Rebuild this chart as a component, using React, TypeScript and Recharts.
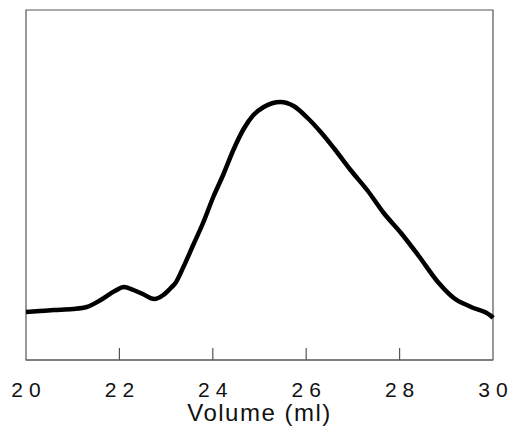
import { LineChart, Line, XAxis, YAxis, ReferenceArea, ReferenceLine } from 'recharts';

// elution volume (ml) and detector response (arbitrary units)
const volume = [
  20.0, 20.3, 20.6, 21.0, 21.3, 21.6, 21.9, 22.1, 22.3, 22.5, 22.66, 22.75, 22.94,
  23.1, 23.2, 23.37, 23.58, 23.8, 24.01, 24.23, 24.44, 24.66, 24.87, 25.09, 25.45,
  25.73, 26.03, 26.31, 26.59, 26.95, 27.32, 27.66, 28.03, 28.41, 28.82,
  29.16, 29.53, 29.96, 30.0,
];
const response = [
  48, 49, 50, 51, 53, 60, 69, 73, 70, 66, 62, 61, 65,
  72, 77, 93, 115, 138, 163, 186, 210, 231, 245, 253, 258,
  254, 242, 228, 212, 190, 169, 147, 127, 104, 78,
  62, 53, 44, 42,
];
const xTicks = [20, 22, 24, 26, 28, 30];
const innerTicks = [22, 24, 26, 28];

const data = volume.map((v, i) => ({ v, r: response[i] }));

const FONT = '"Liberation Sans", Arial, Helvetica, sans-serif';

// digits spread apart like the original typesetting, no trailing space
function Tick({ x, y, payload }: any) {
  const s = String(payload.value);
  return (
    <text x={x} y={y + 37} textAnchor="middle" fontFamily={FONT} fontSize={21} fill="#111">
      {s.split('').map((c, i) => (
        <tspan key={i} dx={i === 0 ? 0 : 6}>{c}</tspan>
      ))}
    </text>
  );
}

export default function App() {
  return (
    <div style={{ position: 'absolute', left: 0, top: 0, background: '#fff' }}>
      <LineChart width={511} height={428} data={data}
        margin={{ top: 10, right: 18, left: 26, bottom: 0 }}>
        <XAxis dataKey="v" type="number" domain={[20, 30]} ticks={xTicks}
          height={68} tickLine={false} tickSize={0} tickMargin={0}
          axisLine={{ stroke: '#555', strokeWidth: 1.2 }}
          tick={<Tick />} interval={0}
          label={{ value: 'Volume (ml)', position: 'insideBottom', offset: 7,
            style: { fontFamily: FONT, fontSize: 24, letterSpacing: 1.5, fill: '#111' } }} />
        <YAxis type="number" domain={[0, 350]} hide />
        <ReferenceArea x1={20} x2={30} y1={0} y2={350} fill="none"
          stroke="#555" strokeWidth={1.2} ifOverflow="visible" />
        {innerTicks.map(t => (
          <ReferenceLine key={t} segment={[{ x: t, y: 0 }, { x: t, y: 12 }]}
            stroke="#555" strokeWidth={1.2} />
        ))}
        <Line type="monotone" dataKey="r" stroke="#000" strokeWidth={4.5}
          dot={false} isAnimationActive={false} strokeLinejoin="round" />
      </LineChart>
    </div>
  );
}
